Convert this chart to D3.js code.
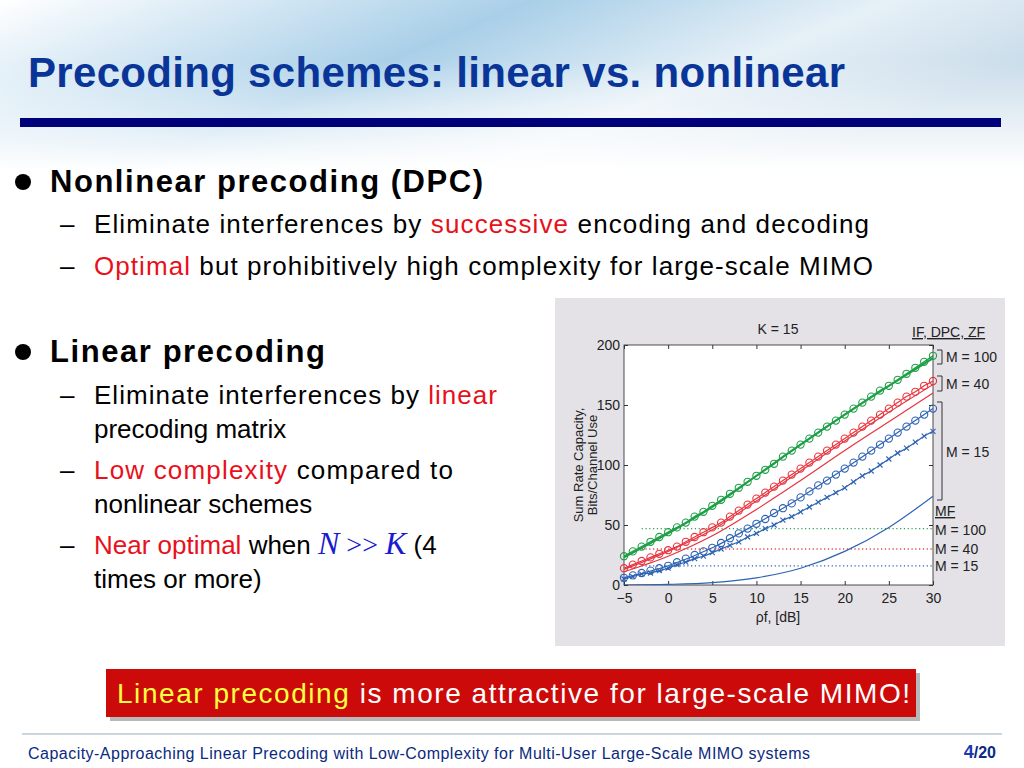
<!DOCTYPE html>
<html><head><meta charset="utf-8">
<script src="https://cdn.jsdelivr.net/npm/d3@7"></script>
<style>body{margin:0;}svg{display:block;}</style></head>
<body><svg id="s" width="1024" height="768"></svg>
<script>
const xTicks=[-5,0,5,10,15,20,25,30];
const yTicks=[0,50,100,150,200];
const xFine=d3.range(-5,31);
const greenCircles=[24,28,32,36,40,44,48,52,57,61,66,71,76,81,86,91,96,101,107,112,117,122,127,132,137,142,147,152,157,162,166,171,176,181,186,191];
const greenLine=[23,43,65,91,117,142,166,189];
const redCircles=[14,17,20,23,26,29,32,36,40,44,48,52,57,62,67,72,77,82,87,92,97,102,107,112,117,122,127,132,137,142,147,152,157,161,166,170];
const redLineUpper=[13,28,46,70,95,120,144,167];
const redLineLower=[11,24,41,63,87,112,136,160];
const blueCircles=[6,8,10,12,14,16,19,22,25,28,31,35,39,43,47,51,55,60,64,68,73,78,83,87,92,97,102,107,112,117,122,127,132,137,142,147];
const blueCross=[5,7,9,10,12,14,17,19,22,24,27,30,33,36,40,43,47,50,54,57,61,65,69,73,77,81,86,91,95,100,105,110,114,119,124,128];
const blueLine=[6,16,31,51,73,97,122,147];
const mfLine=[0,0.5,2,6,14,28,48,74];
const mfDotted=[{v:47,c:"#2ca05a"},{v:30,c:"#e0404a"},{v:16,c:"#2a5fb0"}];

const svg=d3.select("#s");
const defs=svg.append("defs");
const g1=defs.append("linearGradient").attr("id","sky").attr("x1",0).attr("y1",0).attr("x2",1).attr("y2",0.4);
g1.append("stop").attr("offset","0").attr("stop-color","#ffffff");
g1.append("stop").attr("offset","0.45").attr("stop-color","#a9cfe8");
g1.append("stop").attr("offset","0.75").attr("stop-color","#e6f0f7");
g1.append("stop").attr("offset","1").attr("stop-color","#c9dcea");
const g2=defs.append("linearGradient").attr("id","fade").attr("x1",0).attr("y1",0).attr("x2",0).attr("y2",1);
g2.append("stop").attr("offset","0").attr("stop-color","#fff").attr("stop-opacity",0);
g2.append("stop").attr("offset","1").attr("stop-color","#fff").attr("stop-opacity",1);
svg.append("rect").attr("width",1024).attr("height",768).attr("fill","#fff");
svg.append("rect").attr("width",1024).attr("height",170).attr("fill","url(#sky)");
svg.append("rect").attr("y",60).attr("width",1024).attr("height",110).attr("fill","url(#fade)");

svg.append("text").attr("x",28).attr("y",87).attr("font-family","Liberation Sans Narrow, Liberation Sans, Arial").attr("font-weight","bold").attr("font-size",42).attr("fill","#0a3598").attr("textLength",817).text("Precoding schemes: linear vs. nonlinear");
svg.append("rect").attr("x",20).attr("y",118).attr("width",981).attr("height",9).attr("fill","#00007a");

const F="Liberation Sans, Arial, sans-serif";
function bullet(y,txt,w){svg.append("circle").attr("cx",23).attr("cy",y-10).attr("r",8).attr("fill","#000");
 svg.append("text").attr("x",50).attr("y",y).attr("font-family",F).attr("font-weight","bold").attr("font-size",31).attr("textLength",w).text(txt);}
function sub(y,parts,w,dash=true){if(dash)svg.append("text").attr("x",60).attr("y",y).attr("font-family",F).attr("font-size",26).text("–");
 const t=svg.append("text").attr("x",94).attr("y",y).attr("font-family",F).attr("font-size",26);
 if(w)t.attr("textLength",w);
 parts.forEach(p=>t.append("tspan").attr("fill",p[1]||"#000").text(p[0]));return t;}
bullet(192,"Nonlinear precoding (DPC)",433);
sub(233,[["Eliminate interferences by "],["successive","#e8101a"],[" encoding and decoding"]],775);
sub(275,[["Optimal","#e8101a"],[" but prohibitively high complexity for large-scale MIMO"]],779);
bullet(362,"Linear precoding",275);
sub(404,[["Eliminate interferences by "],["linear","#e8101a"]],403);
sub(438,[["precoding matrix"]],null,false);
sub(479,[["Low complexity","#e8101a"],[" compared to"]],359);
sub(513,[["nonlinear schemes"]],null,false);
const t5=sub(554,[["Near optimal","#e8101a"],[" when "]],null);
t5.append("tspan").attr("font-family","Liberation Serif, serif").attr("font-style","italic").attr("font-size",32).attr("fill","#1a1ad0").text("N");
t5.append("tspan").attr("font-family","Liberation Serif, serif").attr("font-size",28).attr("fill","#1a1ad0").text(" >> ");
t5.append("tspan").attr("font-family","Liberation Serif, serif").attr("font-style","italic").attr("font-size",32).attr("fill","#1a1ad0").text("K");
t5.append("tspan").text("  (4");
sub(588,[["times or more)"]],null,false);

// chart image
svg.append("rect").attr("x",555).attr("y",298).attr("width",450).attr("height",348).attr("fill","#e4e2e7");
const CF="Liberation Sans Narrow, Liberation Sans, Arial";
const x=d3.scaleLinear().domain([-5,30]).range([624,933]);
const y=d3.scaleLinear().domain([0,200]).range([585,345]);
svg.append("rect").attr("x",624).attr("y",345).attr("width",309).attr("height",240).attr("fill","#fff").attr("stroke","#222").attr("stroke-width",0.8);
const ax=svg.append("g").attr("transform","translate(0,585)").call(d3.axisBottom(x).tickValues(xTicks).tickSize(-4).tickPadding(8));
const ay=svg.append("g").attr("transform","translate(624,0)").call(d3.axisLeft(y).tickValues(yTicks).tickSize(-4).tickPadding(4));
[ax,ay].forEach(a=>{a.select(".domain").remove();a.selectAll("text").attr("font-family",CF).attr("font-size",14).attr("fill","#222");a.selectAll("line").attr("stroke","#333");});
svg.append("g").attr("transform","translate(0,345)").call(d3.axisTop(x).tickValues(xTicks).tickSize(-4).tickFormat("")).call(a=>{a.select(".domain").remove();a.selectAll("line").attr("stroke","#333");});
svg.append("g").attr("transform","translate(933,0)").call(d3.axisRight(y).tickValues(yTicks).tickSize(-4).tickFormat("")).call(a=>{a.select(".domain").remove();a.selectAll("line").attr("stroke","#333");});

const line=d3.line().x(d=>x(d[0])).y(d=>y(d[1])).curve(d3.curveMonotoneX);
const clip=defs.append("clipPath").attr("id","pc");clip.append("rect").attr("x",624).attr("y",345).attr("width",309).attr("height",240);
const P=svg.append("g").attr("clip-path","url(#pc)");
mfDotted.forEach(m=>P.append("line").attr("x1",x(-3)).attr("x2",x(30)).attr("y1",y(m.v)).attr("y2",y(m.v)).attr("stroke",m.c).attr("stroke-width",1.3).attr("stroke-dasharray","1.2,2.6"));
const zipC=a=>xTicks.map((t,i)=>[t,a[i]]);
const zipF=a=>xFine.map((t,i)=>[t,a[i]]);
const G="#1fa048",R="#e8343e",B="#2d62b4";
P.append("path").attr("d",line(zipC(mfLine))).attr("fill","none").attr("stroke",B).attr("stroke-width",1.2);
P.append("path").attr("d",line(zipC(blueLine))).attr("fill","none").attr("stroke",B).attr("stroke-width",1.2);
P.append("path").attr("d",line(zipF(blueCross))).attr("fill","none").attr("stroke",B).attr("stroke-width",1.2);
P.append("path").attr("d",line(zipC(redLineLower))).attr("fill","none").attr("stroke",R).attr("stroke-width",1.2);
P.append("path").attr("d",line(zipC(redLineUpper))).attr("fill","none").attr("stroke",R).attr("stroke-width",1.2);
P.append("path").attr("d",line(zipF(redCircles))).attr("fill","none").attr("stroke",R).attr("stroke-width",1.2);
P.append("path").attr("d",line(zipC(greenLine))).attr("fill","none").attr("stroke",G).attr("stroke-width",2);
P.append("path").attr("d",line(zipF(greenCircles))).attr("fill","none").attr("stroke",G).attr("stroke-width",1.5);
[[blueCircles,B],[redCircles,R],[greenCircles,G]].forEach(([a,c])=>svg.append("g").selectAll("circle").data(zipF(a)).join("circle").attr("cx",d=>x(d[0])).attr("cy",d=>y(d[1])).attr("r",3.6).attr("fill","none").attr("stroke",c).attr("stroke-width",1.1));
svg.append("g").selectAll("path").data(zipF(blueCross)).join("path").attr("d",d=>{const X=x(d[0]),Y=y(d[1]);return `M${X-2.5},${Y-2.5}L${X+2.5},${Y+2.5}M${X-2.5},${Y+2.5}L${X+2.5},${Y-2.5}`;}).attr("stroke",B).attr("stroke-width",1.1);

function ct(xx,yy,txt,opt={}){const t=svg.append("text").attr("x",xx).attr("y",yy).attr("font-family",CF).attr("font-size",opt.s||14).attr("fill","#222").attr("text-anchor",opt.a||"start");if(opt.u)t.attr("text-decoration","underline");return t.text(txt);}
ct(778,334,"K = 15",{a:"middle"});
ct(912,337,"IF, DPC, ZF",{u:true});
ct(778,622,"ρf, [dB]",{a:"middle"});
svg.append("text").attr("transform","translate(583,465) rotate(-90)").attr("text-anchor","middle").attr("font-family",F).attr("font-size",13).attr("fill","#222").text("Sum Rate Capacity,");
svg.append("text").attr("transform","translate(597,465) rotate(-90)").attr("text-anchor","middle").attr("font-family",F).attr("font-size",13).attr("fill","#222").text("Bits/Channel Use");
function brk(y1,y2){svg.append("path").attr("d",`M937,${y1}H942V${y2}H937`).attr("fill","none").attr("stroke","#333").attr("stroke-width",1);}
brk(350,364);brk(376,391);brk(402,500);
ct(946,362,"M = 100");ct(946,389,"M = 40");ct(946,457,"M = 15");
ct(935,516,"MF",{u:true});ct(935,535,"M = 100");ct(935,554,"M = 40");ct(935,571,"M = 15");

// callout
svg.append("rect").attr("x",110).attr("y",673).attr("width",810).attr("height",48).attr("fill","#888").attr("opacity",0.6);
svg.append("rect").attr("x",106).attr("y",669).attr("width",810).attr("height",48).attr("fill","#cc0a0a");
const ct2=svg.append("text").attr("x",117).attr("y",703).attr("font-family",F).attr("font-size",28).attr("fill","#fff").attr("textLength",793);
ct2.append("tspan").attr("fill","#ffff40").text("Linear precoding");ct2.append("tspan").text(" is more attractive for large-scale MIMO!");

svg.append("line").attr("x1",22).attr("x2",1002).attr("y1",734).attr("y2",734).attr("stroke","#9ab").attr("stroke-width",1);
svg.append("text").attr("x",28).attr("y",759).attr("font-family",F).attr("font-size",16).attr("fill","#0a2a80").attr("textLength",782).text("Capacity-Approaching Linear Precoding with Low-Complexity for Multi-User Large-Scale MIMO systems");
const pg=svg.append("text").attr("x",996).attr("y",758).attr("text-anchor","end").attr("font-family",F).attr("font-weight","bold").attr("font-size",18).attr("fill","#0a2a80");
pg.append("tspan").attr("fill","#1a3ab0").text("4");pg.append("tspan").attr("font-size",16).text("/20");
</script></body></html>
